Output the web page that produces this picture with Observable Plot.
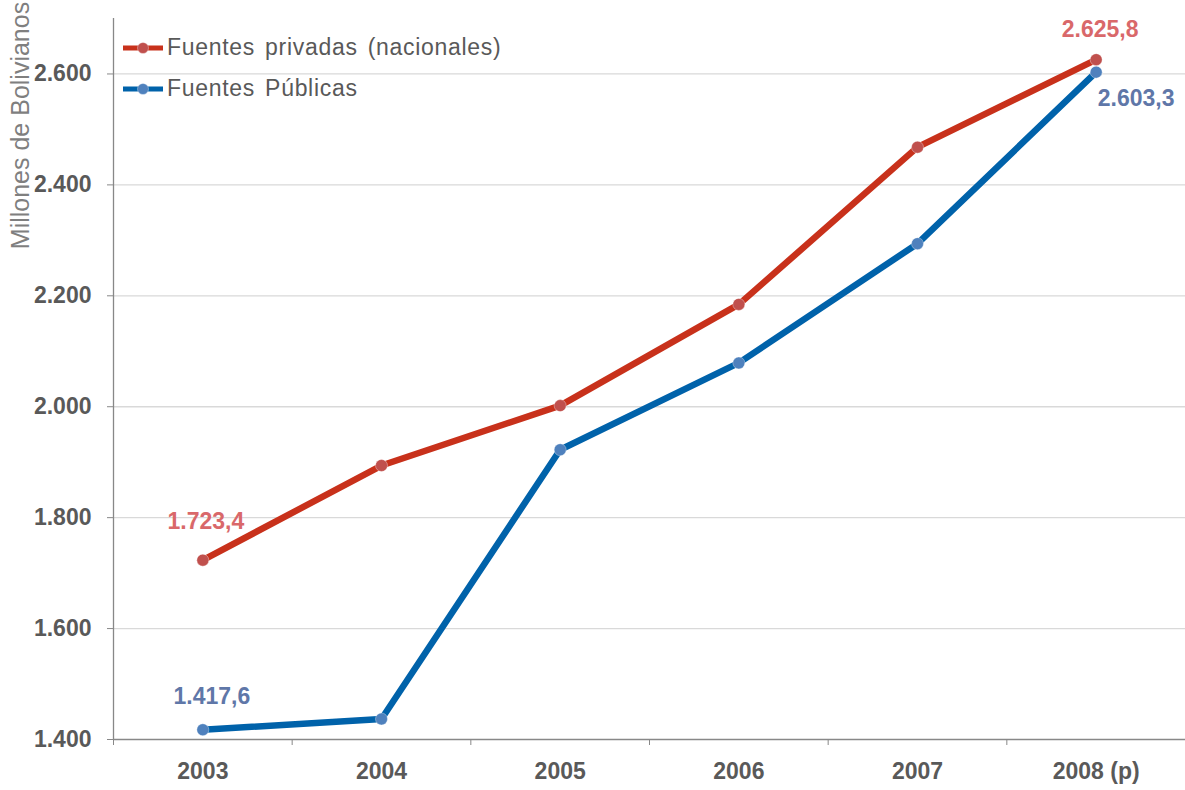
<!DOCTYPE html>
<html>
<head>
<meta charset="utf-8">
<script src="https://cdn.jsdelivr.net/npm/d3@7"></script>
<script src="https://cdn.jsdelivr.net/npm/@observablehq/plot@0.6"></script>
<style>
  html, body { margin: 0; padding: 0; background: #fff; }
  #wrap { position: relative; width: 1185px; height: 790px; font-family: "Liberation Sans", Arial, sans-serif; }
  .ytitle { position: absolute; font-size: 25px; color: #7f7f7f; white-space: nowrap; line-height: 1; }
  #legend { position: absolute; left: 122px; top: 27px; font-size: 23px; color: #595959; }
  .item { display: flex; align-items: center; height: 41px; letter-spacing: 0.7px; word-spacing: 3px; }
  .item svg { margin-right: 3px; }
</style>
</head>
<body>
<div id="wrap"></div>
<script>
const years = ["2003", "2004", "2005", "2006", "2007", "2008 (p)"];
const privadas = [1723.4, 1894, 2002, 2184.5, 2468, 2625.8];
const publicas = [1417.6, 1437, 1922.5, 2079, 2294, 2603.3];
const seriesNames = ["Fuentes privadas (nacionales)", "Fuentes Públicas"];
const yTicks = [1400, 1600, 1800, 2000, 2200, 2400, 2600];
const gridTicks = [1600, 1800, 2000, 2200, 2400, 2600];

const lineColors = ["#C8311B", "#0062AA"];
const dotColors = ["#C0504D", "#4F81BD"];
const labelColors = ["#D9686A", "#5F77A8"];

const idx = years.map((_, i) => i);
const rows = [];
idx.forEach(i => {
  rows.push({s: 0, i, v: privadas[i]});
  rows.push({s: 1, i, v: publicas[i]});
});

const loc = d3.formatLocale({decimal: ",", thousands: ".", grouping: [3]});
const fmtNum = d => loc.format(",.0f")(d);
const fmtLab = d => loc.format(",.1f")(d);

const labels = [
  {s: 0, i: 0, v: privadas[0], dx: 3, dy: -39},
  {s: 1, i: 0, v: publicas[0], dx: 9, dy: -33},
  {s: 0, i: 5, v: privadas[5], dx: 4, dy: -30},
  {s: 1, i: 5, v: publicas[5], dx: 40, dy: 26}
];

const boundaries = d3.range(-0.5, years.length, 1);

const chart = Plot.plot({
  width: 1185,
  height: 790,
  marginLeft: 113,
  marginRight: 0,
  marginTop: 18,
  marginBottom: 51,
  style: {fontFamily: "Liberation Sans, Arial, sans-serif", background: "transparent", overflow: "visible"},
  x: {type: "linear", domain: [-0.5, years.length - 0.5]},
  y: {domain: [1400, 2700]},
  marks: [
    Plot.ruleY(gridTicks, {stroke: "#d9d9d9", strokeWidth: 1.3}),
    Plot.axisY({ticks: yTicks, tickSize: 6, tickPadding: 16, tickFormat: fmtNum, fontSize: 23, fontWeight: "bold", fill: "#595959", label: null, stroke: "#888"}),
    Plot.axisX({ticks: boundaries, tickSize: 6, tickFormat: () => "", label: null, stroke: "#888"}),
    Plot.axisX({ticks: idx, tickSize: 0, tickPadding: 23, tickFormat: i => years[i], fontSize: 23, fontWeight: "bold", fill: "#595959", label: null}),
    Plot.ruleX([-0.5], {stroke: "#888", strokeWidth: 1.3}),
    Plot.ruleY([1400], {stroke: "#888", strokeWidth: 1.3}),
    ...[0, 1].map(s => Plot.line(rows.filter(r => r.s === s), {x: "i", y: "v", stroke: lineColors[s], strokeWidth: 6.5, strokeLinejoin: "round"})),
    ...[0, 1].map(s => Plot.dot(rows.filter(r => r.s === s), {x: "i", y: "v", r: 6, fill: dotColors[s], stroke: "#ffffff", strokeOpacity: 0.35, strokeWidth: 1})),
    ...labels.map(l => Plot.text([l], {x: "i", y: "v", text: d => fmtLab(d.v), dx: l.dx, dy: l.dy, fill: labelColors[l.s], fontSize: 23, fontWeight: "bold"}))
  ]
});

const wrap = document.getElementById("wrap");
wrap.appendChild(chart);

const yt = document.createElement("div");
yt.className = "ytitle";
yt.textContent = "Millones de Bolivianos";
wrap.appendChild(yt);
const w = yt.getBoundingClientRect().width;
const h = yt.getBoundingClientRect().height;
yt.style.left = (21 - w / 2) + "px";
yt.style.top = (2 + w / 2 - h / 2) + "px";
yt.style.transform = "rotate(-90deg)";

const legend = document.createElement("div");
legend.id = "legend";
seriesNames.forEach((name, s) => {
  const item = document.createElement("div");
  item.className = "item";
  item.innerHTML = `<svg width="42" height="14"><line x1="1" y1="7" x2="41" y2="7" stroke="${lineColors[s]}" stroke-width="5"/><circle cx="21" cy="7" r="5.5" fill="${dotColors[s]}" stroke="#fff" stroke-opacity="0.35"/></svg><span>${name}</span>`;
  legend.appendChild(item);
});
wrap.appendChild(legend);
</script>
</body>
</html>
